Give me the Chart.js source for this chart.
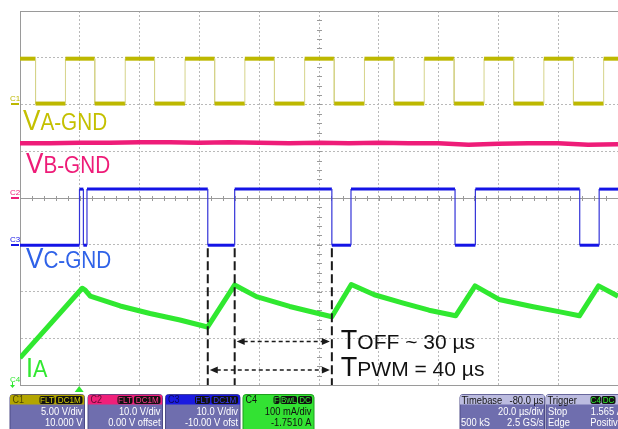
<!DOCTYPE html>
<html>
<head>
<meta charset="utf-8">
<script src="https://cdn.jsdelivr.net/npm/chart.js@4/dist/chart.umd.min.js"></script>
<style>
  html, body { margin: 0; padding: 0; background: #fff; }
  #wrap { width: 618px; height: 429px; }
</style>
</head>
<body>
<div id="wrap"><canvas id="scope" width="618" height="429"></canvas></div>
<script>
// horizontal: time in µs from the left edge of the screen (20 µs/div)
// vertical: screen divisions counted from the bottom (8 div)
const gridTimes = [0, 20, 40, 60, 80, 100, 120, 140, 160, 180];
const gridLevels = [0, 1, 2, 3, 4, 5, 6, 7, 8];

// C1 - VA-GND, square wave, switching instants (starts high)
const c1Edges = [5.2, 15.2, 25.0, 35.2, 45.0, 55.2, 65.1, 75.2, 85.1, 95.2,
                 105.1, 115.2, 125.1, 135.2, 145.2, 155.2, 165.1, 175.2, 185.1, 195.2];
const c1Levels = [6.02, 6.98]; // low, high

// C2 - VB-GND, nearly flat
const c2Times = [0, 10, 20, 30, 40, 50, 60, 70, 80, 90, 100, 110, 120, 130, 140, 150, 160, 170, 180, 190, 200];
const c2Values = [5.17, 5.17, 5.18, 5.18, 5.19, 5.19, 5.18, 5.19, 5.18, 5.17, 5.18,
                  5.17, 5.18, 5.17, 5.17, 5.14, 5.16, 5.17, 5.17, 5.14, 5.15];

// C3 - VC-GND, switching instants (starts low)
const c3Edges = [19.9, 21.2, 22.4, 62.8, 71.8, 104.3, 110.7, 145.5, 152.3, 187.2, 193.7];
const c3Levels = [2.99, 4.19]; // low, high

// C4 - IA current
const c4Times = [0, 20.8, 21.8, 23.5, 33.5, 43.5, 53.5, 62.7, 71.8, 79.1, 90.2, 104.3,
                 110.8, 118.5, 128.2, 136.8, 145.7, 152.2, 160.2, 171.2, 180.2, 187.1, 193.5, 200];
const c4Values = [0.58, 2.07, 2.03, 1.90, 1.69, 1.53, 1.39, 1.24, 2.14, 1.89, 1.68, 1.46,
                  2.15, 1.93, 1.75, 1.60, 1.48, 2.12, 1.83, 1.68, 1.57, 1.48, 2.12, 1.90];

// cursors and measurements
const cursorTimes = [62.8, 71.8, 104.3];
const toffSpan = [71.8, 104.3];
const tpwmSpan = [62.8, 104.3];
const triggerTime = 19.8;

const FONT = '"Liberation Sans", Arial, sans-serif';
const YELLOW = '#bdb800', PINK = '#ee1c78', BLUE = '#1414e6', GREEN = '#30e830';

function stepPoints(edges, levels, startState, end) {
    let s = startState;
    const pts = [{ x: 0, y: levels[s] }];
    edges.forEach(t => {
        pts.push({ x: t, y: levels[s] });
        s = 1 - s;
        pts.push({ x: t, y: levels[s] });
    });
    pts.push({ x: end, y: levels[s] });
    return pts;
}

const isVertical = c => c.p0.parsed.x === c.p1.parsed.x;

function txt(ctx, s, x, y, size, color, align, sx) {
    ctx.save();
    ctx.translate(x, y);
    ctx.scale(sx || 1, 1);
    ctx.font = size + 'px ' + FONT;
    ctx.fillStyle = color;
    ctx.textAlign = align || 'left';
    ctx.textBaseline = 'alphabetic';
    ctx.fillText(s, 0, 0);
    ctx.restore();
}

function mixed(ctx, parts, x, y, color, sx) {
    let cx = x;
    parts.forEach(([s, size]) => {
        ctx.font = size + 'px ' + FONT;
        const w = ctx.measureText(s).width * sx;
        txt(ctx, s, cx, y, size, color, 'left', sx);
        cx += w;
    });
}

function rbox(ctx, x, y, w, h, r, fill, stroke) {
    ctx.beginPath();
    ctx.roundRect(x, y, w, h, r);
    ctx.fillStyle = fill;
    ctx.fill();
    if (stroke) { ctx.strokeStyle = stroke; ctx.lineWidth = 1; ctx.stroke(); }
}

function tag(ctx, s, x, w, color) {
    rbox(ctx, x, 396, w, 8, 2, '#111');
    txt(ctx, s, x + w / 2, 403, 9.5, color, 'center', 0.85);
}

function arrow(ctx, x1, x2, y) {
    ctx.save();
    ctx.strokeStyle = '#1a1a1a';
    ctx.fillStyle = '#1a1a1a';
    ctx.lineWidth = 1.5;
    ctx.setLineDash([4, 3]);
    ctx.beginPath();
    ctx.moveTo(x1 + 8, y);
    ctx.lineTo(x2 - 8, y);
    ctx.stroke();
    ctx.setLineDash([]);
    ctx.beginPath();
    ctx.moveTo(x1 + 1, y); ctx.lineTo(x1 + 9, y - 3.5); ctx.lineTo(x1 + 9, y + 3.5); ctx.closePath();
    ctx.moveTo(x2 - 1, y); ctx.lineTo(x2 - 9, y - 3.5); ctx.lineTo(x2 - 9, y + 3.5); ctx.closePath();
    ctx.fill();
    ctx.restore();
}

const scopePlugin = {
    id: 'scope',
    beforeDatasetsDraw(chart) {
        const { ctx, chartArea: a, scales: { x, y } } = chart;
        ctx.save();
        ctx.strokeStyle = '#9a9a9a';
        ctx.lineWidth = 1;
        // top frame
        ctx.beginPath();
        ctx.moveTo(a.left, a.top + 0.5); ctx.lineTo(a.right, a.top + 0.5);
        // centre horizontal axis with minor ticks
        const cy = Math.round(y.getPixelForValue(4)) + 0.5;
        ctx.moveTo(a.left, cy); ctx.lineTo(a.right, cy);
        for (let t = 0; t <= 200; t += 4) {
            const px = Math.round(x.getPixelForValue(t)) + 0.5;
            ctx.moveTo(px, cy - 2.5); ctx.lineTo(px, cy + 2.5);
        }
        // centre vertical axis minor ticks
        const cx = Math.round(x.getPixelForValue(100)) + 0.5;
        for (let v = 0; v <= 8; v += 0.2) {
            const py = Math.round(y.getPixelForValue(v)) + 0.5;
            ctx.moveTo(cx - 2.5, py); ctx.lineTo(cx + 2.5, py);
        }
        ctx.stroke();
        ctx.restore();
    },
    afterDatasetsDraw(chart) {
        const { ctx, chartArea: a, scales: { x, y } } = chart;
        ctx.save();
        // cursors
        ctx.strokeStyle = '#1a1a1a';
        ctx.lineWidth = 2;
        ctx.setLineDash([9, 4]);
        cursorTimes.forEach(t => {
            const px = x.getPixelForValue(t);
            ctx.beginPath();
            ctx.moveTo(px, y.getPixelForValue(c3Levels[0]) + 3);
            ctx.lineTo(px, a.bottom);
            ctx.stroke();
        });
        ctx.setLineDash([]);
        const yT = y.getPixelForValue(0.93), yP = y.getPixelForValue(0.32);
        arrow(ctx, x.getPixelForValue(toffSpan[0]) + 1, x.getPixelForValue(toffSpan[1]) - 1, yT);
        arrow(ctx, x.getPixelForValue(tpwmSpan[0]) + 1, x.getPixelForValue(tpwmSpan[1]) - 1, yP);
        const tx = x.getPixelForValue(toffSpan[1]) + 9;
        mixed(ctx, [['T', 27], ['OFF ~ 30 µs', 21]], tx, yT + 7.5, '#111', 1);
        mixed(ctx, [['T', 27], ['PWM = 40 µs', 21]], tx, yP + 6, '#111', 1);

        // trace labels
        mixed(ctx, [['V', 29], ['A-GND', 23]], 23, 130, '#c4c000', 0.9);
        mixed(ctx, [['V', 29], ['B-GND', 23]], 26, 173, PINK, 0.9);
        mixed(ctx, [['V', 29], ['C-GND', 23]], 26, 268, '#2f62e8', 0.9);
        mixed(ctx, [['I', 28], ['A', 24]], 26, 377, GREEN, 0.9);
        ctx.restore();
    },
    afterDraw(chart) {
        const { ctx, chartArea: a, scales: { x, y } } = chart;
        ctx.save();
        // channel ground markers
        [[c1Levels[0], 'C1', YELLOW], [4, 'C2', PINK], [c3Levels[0], 'C3', BLUE]].forEach(([v, s, c]) => {
            const py = Math.round(y.getPixelForValue(v));
            ctx.fillStyle = c;
            ctx.fillRect(11, py - 1, 8, 2);
            txt(ctx, s, 10, py - 3, 8, c, 'left', 1);
        });
        txt(ctx, 'C4', 10, 382, 8, GREEN, 'left', 1);
        ctx.strokeStyle = GREEN; ctx.fillStyle = GREEN; ctx.lineWidth = 1;
        ctx.beginPath(); ctx.moveTo(12.5, 382); ctx.lineTo(12.5, 387); ctx.stroke();
        ctx.beginPath(); ctx.moveTo(10, 385); ctx.lineTo(15, 385); ctx.lineTo(12.5, 388); ctx.fill();
        // trigger position
        const tp = x.getPixelForValue(triggerTime);
        ctx.fillStyle = GREEN;
        ctx.beginPath(); ctx.moveTo(tp, a.bottom + 1); ctx.lineTo(tp - 4.5, a.bottom + 7); ctx.lineTo(tp + 4.5, a.bottom + 7); ctx.fill();

        // channel info boxes
        const BODY = '#6f6eae', EDGE = '#4c4b86';
        const chans = [
            [10, 'C1', '#b3a500', '#d8d000', ['FLT', 'DC1M'], ['5.00 V/div', '10.000 V']],
            [88, 'C2', '#f0207a', '#ff3a8c', ['FLT', 'DC1M'], ['10.0 V/div', '0.00 V offset']],
            [165.5, 'C3', '#1a1ae0', '#3a3aff', ['FLT', 'DC1M'], ['10.0 V/div', '-10.00 V ofst']]
        ];
        chans.forEach(([bx, name, head, tagc, tags, lines]) => {
            rbox(ctx, bx, 394.5, 74.5, 40, 3, BODY, EDGE);
            ctx.save();
            ctx.beginPath(); ctx.roundRect(bx, 394.5, 74.5, 40, 3); ctx.clip();
            ctx.fillStyle = head; ctx.fillRect(bx, 394.5, 74.5, 10);
            ctx.restore();
            txt(ctx, name, bx + 2.5, 403, 10, 'rgba(0,0,0,0.6)', 'left', 0.9);
            tag(ctx, tags[0], bx + 29.5, 15, tagc);
            tag(ctx, tags[1], bx + 46, 26.5, tagc);
            txt(ctx, lines[0], bx + 72.5, 415, 11, '#fff', 'right', 0.85);
            txt(ctx, lines[1], bx + 72.5, 425.5, 11, '#fff', 'right', 0.85);
        });
        // C4 box (all green)
        rbox(ctx, 243, 394.5, 71, 40, 3, '#33e233', '#1fa01f');
        txt(ctx, 'C4', 245.5, 403, 10, '#111', 'left', 0.9);
        tag(ctx, 'F', 273.5, 6, GREEN);
        tag(ctx, 'BwL', 280.5, 16.5, GREEN);
        tag(ctx, 'DC', 298, 14, GREEN);
        txt(ctx, '100 mA/div', 311.5, 415, 11, '#111', 'right', 0.85);
        txt(ctx, '-1.7510 A', 311.5, 425.5, 11, '#111', 'right', 0.85);

        // timebase and trigger boxes
        [[460, 84.5], [546, 84]].forEach(([bx, w]) => {
            rbox(ctx, bx, 394.5, w, 40, 3, BODY, EDGE);
            ctx.save();
            ctx.beginPath(); ctx.roundRect(bx, 394.5, w, 40, 3); ctx.clip();
            ctx.fillStyle = '#bcbce0'; ctx.fillRect(bx, 394.5, w, 10);
            ctx.restore();
        });
        txt(ctx, 'Timebase', 461.5, 403.5, 11, '#111', 'left', 0.85);
        txt(ctx, '-80.0 µs', 543.5, 403.5, 11, '#111', 'right', 0.85);
        txt(ctx, '20.0 µs/div', 543.5, 415, 11, '#fff', 'right', 0.85);
        txt(ctx, '500 kS', 461, 425.5, 11, '#fff', 'left', 0.85);
        txt(ctx, '2.5 GS/s', 543.5, 425.5, 11, '#fff', 'right', 0.85);
        txt(ctx, 'Trigger', 547.5, 403.5, 11, '#111', 'left', 0.85);
        tag(ctx, 'C4', 590.5, 10.5, GREEN);
        tag(ctx, 'DC', 601.5, 14, GREEN);
        txt(ctx, 'Stop', 548, 415, 11, '#fff', 'left', 0.85);
        txt(ctx, '1.565 A', 623, 415, 11, '#fff', 'right', 0.85);
        txt(ctx, 'Edge', 548, 425.5, 11, '#fff', 'left', 0.85);
        txt(ctx, 'Positive', 623, 425.5, 11, '#fff', 'right', 0.85);
        ctx.restore();
    }
};

const lineBase = { pointRadius: 0, borderCapStyle: 'butt', borderJoinStyle: 'miter', tension: 0 };

new Chart(document.getElementById('scope'), {
    type: 'line',
    data: {
        datasets: [
            Object.assign({}, lineBase, {
                label: 'VA-GND',
                data: stepPoints(c1Edges, c1Levels, 1, 200),
                borderColor: YELLOW, borderWidth: 4,
                segment: {
                    borderWidth: c => isVertical(c) ? 1 : 4,
                    borderColor: c => isVertical(c) ? '#d6d38a' : YELLOW
                }
            }),
            Object.assign({}, lineBase, {
                label: 'VB-GND',
                data: c2Times.map((t, i) => ({ x: t, y: c2Values[i] })),
                borderColor: PINK, borderWidth: 4.5
            }),
            Object.assign({}, lineBase, {
                label: 'VC-GND',
                data: stepPoints(c3Edges, c3Levels, 0, 200),
                borderColor: BLUE, borderWidth: 3,
                segment: {
                    borderWidth: c => isVertical(c) ? 1.2 : 3,
                    borderColor: c => isVertical(c) ? '#3434d8' : BLUE
                }
            }),
            Object.assign({}, lineBase, {
                label: 'IA',
                data: c4Times.map((t, i) => ({ x: t, y: c4Values[i] })),
                borderColor: GREEN, borderWidth: 5, borderJoinStyle: 'round'
            })
        ]
    },
    options: {
        responsive: false,
        animation: false,
        devicePixelRatio: 1,
        layout: { padding: { left: 20, top: 11, right: 0, bottom: 44 } },
        plugins: { legend: { display: false }, tooltip: { enabled: false } },
        scales: {
            x: {
                type: 'linear', min: 0, max: 200,
                afterBuildTicks: s => { s.ticks = gridTimes.map(v => ({ value: v })); },
                ticks: { display: false },
                grid: { color: '#b9b9b9', lineWidth: 1, drawTicks: false },
                border: { display: true, color: '#9a9a9a', width: 1, dash: [2, 2] }
            },
            y: {
                type: 'linear', min: 0, max: 8,
                afterBuildTicks: s => { s.ticks = gridLevels.map(v => ({ value: v })); },
                ticks: { display: false },
                grid: { color: '#b9b9b9', lineWidth: 1, drawTicks: false },
                border: { display: true, color: '#9a9a9a', width: 1, dash: [2, 2] }
            }
        }
    },
    plugins: [scopePlugin]
});
</script>
</body>
</html>
